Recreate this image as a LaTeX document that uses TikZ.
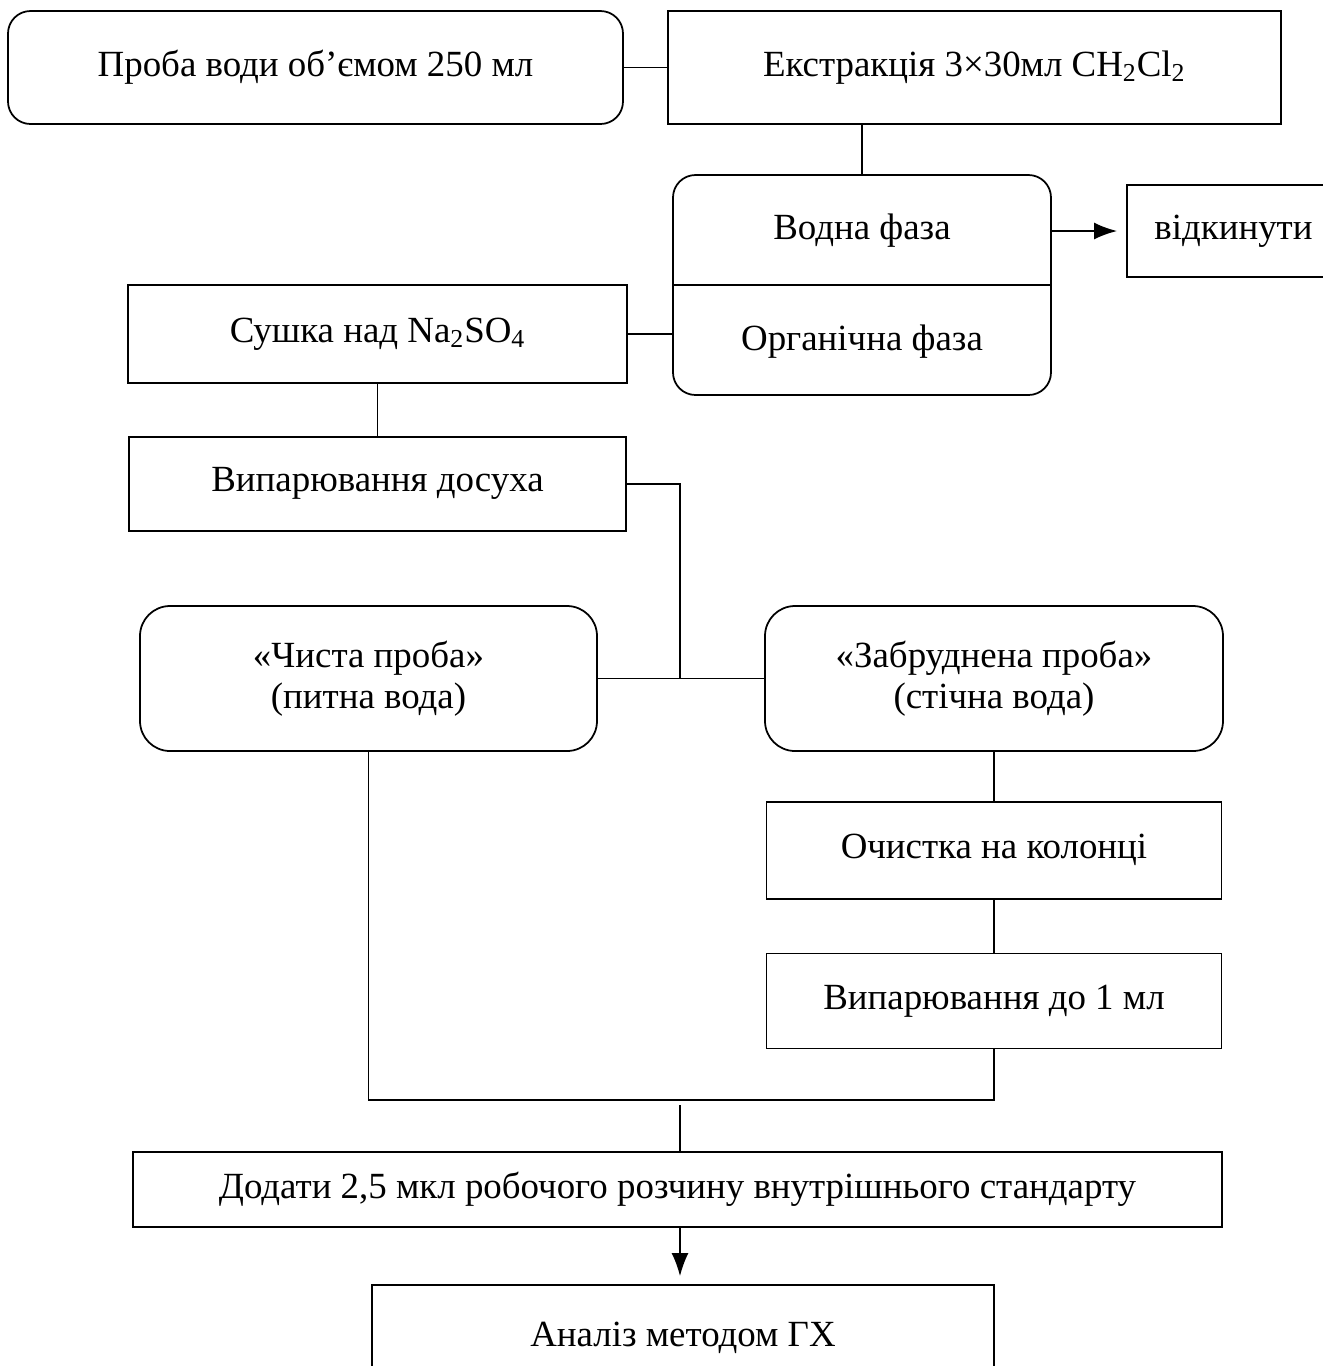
\documentclass[tikz,border=0pt]{standalone}
\usepackage{fontspec}
\setmainfont{Liberation Serif}
\usetikzlibrary{positioning,arrows.meta}

\begin{document}
\begin{tikzpicture}[
            roundbox/.style={rectangle, rounded corners=4.5mm, draw=black, line width=1pt, font=\fontsize{21}{23}\selectfont, align=center},
            squarebox/.style={rectangle, draw=black, line width=1pt, font=\fontsize{21}{23}\selectfont, align=center},
            label/.style={font=\fontsize{21}{23}\selectfont},
            link/.style={draw=black, line width=0.9pt},
            >={Latex[length=4.6mm,width=3.4mm]},
        ]
        \useasboundingbox (0,0) rectangle (26.46,-27.32);
        \clip (0,0) rectangle (26.46,-27.32);

        %Nodes
        \node[roundbox, minimum width=12.3cm, minimum height=2.26cm]   (probe)  at (6.31,-1.35)          {Проба води об’ємом 250 мл};
        \node[squarebox, minimum width=12.26cm, minimum height=2.26cm] (ekstr)  [right=0.86cm of probe] {Екстракція 3×30мл CH\textsubscript{2}Cl\textsubscript{2}};
        \node[roundbox, minimum width=7.56cm, minimum height=4.4cm]    (phase)  at (17.24,-5.7)          {};
        \node[label]                                                   (vodna)  at (17.24,-4.62)         {Водна фаза};
        \node[label]                                                   (orhan)  at (17.24,-6.84)         {Органічна фаза};
        \node[squarebox, minimum width=4.26cm, minimum height=1.84cm]  (vidk)   at (24.67,-4.62)         {відкинути};
        \node[squarebox, minimum width=9.98cm, minimum height=1.96cm]  (sushka) at (7.55,-6.68)          {Сушка над Na\textsubscript{2}SO\textsubscript{4}};
        \node[squarebox, minimum width=9.94cm, minimum height=1.88cm]  (vyp1)   [below=1.04cm of sushka] {Випарювання досуха};
        \node[roundbox, rounded corners=6mm, minimum width=9.14cm, minimum height=2.9cm] (chista) at (7.37,-13.57) {«Чиста проба»\\(питна вода)};
        \node[roundbox, rounded corners=6mm, minimum width=9.16cm, minimum height=2.9cm] (zabrud) at (19.88,-13.57) {«Забруднена проба»\\(стічна вода)};
        \node[squarebox, minimum width=9.1cm, minimum height=1.94cm]   (ochyst) [below=0.98cm of zabrud] {Очистка на колонці};
        \node[squarebox, minimum width=9.1cm, minimum height=1.9cm]    (vyp2)   [below=1.06cm of ochyst] {Випарювання до 1 мл};
        \node[squarebox, minimum width=21.78cm, minimum height=1.5cm]  (dodaty) at (13.55,-23.79)        {Додати 2,5 мкл робочого розчину внутрішнього стандарту};
        \node[squarebox, minimum width=12.44cm, minimum height=2.1cm]  (analiz) at (13.66,-26.75)        {Аналіз методом ГХ};

        \coordinate (hub)   at (13.6,-13.57);
        \coordinate (merge) at (13.6,-22.0);

        %Lines
        \draw[link] (probe.east) -- (ekstr.west);
        \draw[link] (phase.north |- ekstr.south) -- (phase.north);
        \draw[line width=1pt] (phase.west) -- (phase.east);
        \draw[link, line width=1.1pt, ->, shorten >=1.8mm] (phase.east |- vodna) -- (vidk.west);
        \draw[link] (sushka.east) -- (sushka.east -| phase.west);
        \draw[link] (sushka.south) -- (vyp1.north);
        \draw[link] (vyp1.east) -| (hub);
        \draw[link] (chista.east) -- (zabrud.west);
        \draw[link] (zabrud.south) -- (ochyst.north);
        \draw[link] (ochyst.south) -- (vyp2.north);
        \draw[link] (vyp2.south) -- (vyp2.south |- merge) -- (chista.south |- merge) -- (chista.south);
        \draw[link] ([yshift=-1mm]merge) -- (merge |- dodaty.north);
        \draw[link, ->, shorten >=1.6mm] (merge |- dodaty.south) -- (merge |- analiz.north);
    \end{tikzpicture}
\end{document}
